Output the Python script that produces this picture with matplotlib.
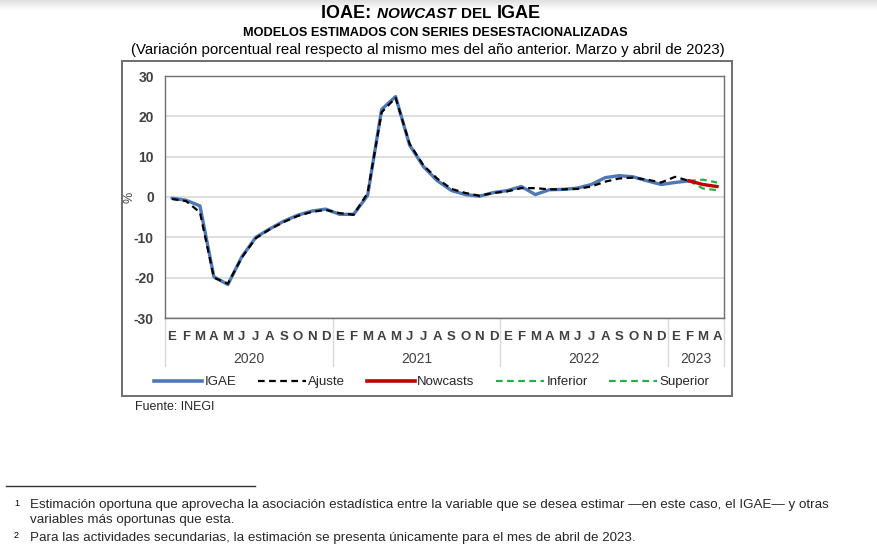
import numpy as np
import matplotlib.pyplot as plt
from matplotlib.patches import Rectangle
from matplotlib.lines import Line2D

plt.rcParams["font.family"] = ["Liberation Sans", "DejaVu Sans"]
plt.rcParams["axes.unicode_minus"] = False

# %% Daten: Jan 2020 bis Apr 2023 (40 Monate)

meses = list("EFMAMJJASOND") * 3 + list("EFMA")
anios = ["2020", "2021", "2022", "2023"]
meses_por_anio = [12, 12, 12, 4]

igae = [-0.3, -0.8, -2.2, -19.8, -21.7, -14.8, -10.0, -7.9, -6.0, -4.5,
        -3.5, -3.0, -4.3, -4.3, 0.4, 21.7, 24.9, 12.9, 7.5, 4.0,
        1.6, 0.6, 0.2, 1.1, 1.6, 2.6, 0.6, 1.8, 1.9, 2.2,
        3.1, 4.8, 5.3, 5.0, 4.0, 3.1, 3.6, 4.0]

ajuste = [-0.5, -1.0, -3.8, -20.0, -21.5, -15.0, -10.2, -8.0, -6.2, -4.7,
          -3.7, -3.2, -4.0, -4.4, 1.0, 21.0, 24.6, 13.2, 7.8, 4.5,
          2.0, 1.0, 0.3, 1.0, 1.4, 2.2, 2.2, 1.9, 1.9, 2.0,
          2.6, 3.8, 4.6, 4.8, 4.3, 3.6, 5.0, 4.0]

# Nowcast und Intervall: Feb, Mar, Abr 2023
nowcast = [4.0, 3.1, 2.6]
inferior = [4.0, 2.1, 1.7]
superior = [4.0, 4.3, 3.6]
inicio_nowcast = 37

y_ticks = [-30, -20, -10, 0, 10, 20, 30]

x = np.arange(len(meses))
x_now = x[inicio_nowcast:inicio_nowcast + len(nowcast)]

# %% Figur

fig = plt.figure(figsize=(8.78, 5.5), dpi=100)
W, H = 878, 550

def fx(px):
    return px / W

def fy(py):
    return 1 - py / H

# leichter grauer Schatten oben (Scan)
ax_bg = fig.add_axes([0, fy(10), 1, fy(0) - fy(10)])
ax_bg.imshow(np.linspace(0, 1, 20).reshape(-1, 1), cmap="gray", vmin=-3, vmax=1,
             aspect="auto", extent=(0, 1, 0, 1), alpha=0.5)
ax_bg.axis("off")

ax = fig.add_axes([fx(165), fy(318), fx(724) - fx(165), fy(76) - fy(318)])

gris_borde = "#6e6e6e"
azul = "#4f79b4"
rojo = "#c00000"
verde = "#22b04b"

ax.plot(x[:len(igae)], igae, color=azul, lw=2.4, solid_capstyle="round", zorder=3)
ax.plot(x[:len(ajuste)], ajuste, color="black", lw=1.6, ls=(0, (3, 2)), zorder=4)
ax.plot(x_now, inferior, color=verde, lw=1.6, ls=(0, (3, 2)), zorder=5)
ax.plot(x_now, superior, color=verde, lw=1.6, ls=(0, (3, 2)), zorder=5)
ax.plot(x_now, nowcast, color=rojo, lw=2.4, zorder=6)

ax.set_xlim(-0.5, len(meses) - 0.5)
ax.set_ylim(-30, 30)
ax.set_yticks(y_ticks)
ax.set_yticklabels([str(v) for v in y_ticks])
ax.yaxis.grid(True, color="#d9d9d9", lw=1.2)
ax.set_axisbelow(True)
for s in ax.spines.values():
    s.set_color(gris_borde)
    s.set_linewidth(1.0)

ax.tick_params(axis="y", length=0, pad=8, labelsize=10, labelcolor="#404040")
for t in ax.get_yticklabels():
    t.set_fontweight("bold")
ax.set_xticks(x)
ax.set_xticklabels(meses, fontsize=9.5, color="#404040", fontweight="bold")
ax.tick_params(axis="x", length=0, pad=9)
ax.set_ylabel("%", fontsize=9, color="#404040", labelpad=0)
ax.yaxis.set_label_coords(-0.052, 0.5)

# Jahreszeilen und Trennlinien unter der Achse
trans = ax.get_xaxis_transform()
pos = -0.5
for anio, n in zip(anios, meses_por_anio):
    ax.plot([pos, pos], [0, -0.2], transform=trans, color="#d9d9d9", lw=1.0, clip_on=False)
    ax.text(pos + n / 2, -0.17, anio, transform=trans, ha="center", va="center",
            fontsize=10, color="#404040")
    pos += n
ax.plot([pos, pos], [0, -0.2], transform=trans, color="#d9d9d9", lw=1.0, clip_on=False)

# Rahmen um die Grafik
fig.patches.append(Rectangle((fx(122), fy(396)), fx(732) - fx(122), fy(61) - fy(396),
                             transform=fig.transFigure, fill=False,
                             edgecolor=gris_borde, lw=1.4))

# Legende
handles = [
    Line2D([], [], color=azul, lw=2.6),
    Line2D([], [], color="black", lw=1.6, ls=(0, (3, 2))),
    Line2D([], [], color=rojo, lw=2.6),
    Line2D([], [], color=verde, lw=1.6, ls=(0, (3, 2))),
    Line2D([], [], color=verde, lw=1.6, ls=(0, (3, 2))),
]
etiquetas = ["IGAE", "Ajuste", "Nowcasts", "Inferior", "Superior"]
fig.legend(handles, etiquetas, loc="center", bbox_to_anchor=(fx(432), fy(382)),
           ncol=5, frameon=False, fontsize=9.5, handlelength=3.6,
           handletextpad=0.2, columnspacing=1.65, labelcolor="#262626")

# Titel: Teile nacheinander setzen
r = fig.canvas.get_renderer()
teile = [("IOAE: ", 13, "normal"), ("NOWCAST ", 11, "italic"),
         ("DEL ", 11, "normal"), ("IGAE", 13, "normal")]
x0 = 321
for txt, size, stil in teile:
    t = fig.text(fx(x0), fy(14), txt, fontsize=size, fontweight="bold", style=stil,
                 va="center", ha="left")
    x0 = t.get_window_extent(renderer=r).x1 + 1

fig.text(fx(435), fy(33), "MODELOS ESTIMADOS CON SERIES DESESTACIONALIZADAS",
         fontsize=9.15, fontweight="bold", ha="center", va="center")
fig.text(fx(428), fy(50),
         "(Variación porcentual real respecto al mismo mes del año anterior. Marzo y abril de 2023)",
         fontsize=10.8, ha="center", va="center")

fig.text(fx(135), fy(407), "Fuente: INEGI", fontsize=9, va="center", color="#262626")

# Fussnoten
fig.add_artist(Line2D([fx(6), fx(255)], [fy(486), fy(486)], color="#333333", lw=1.0))
fig.text(fx(14), fy(504), "1", fontsize=6.5, va="center")
fig.text(fx(30), fy(505),
         "Estimación oportuna que aprovecha la asociación estadística entre la variable que se desea estimar "
         "\u2014en este caso, el IGAE\u2014 y otras",
         fontsize=9.6, va="center", color="#262626")
fig.text(fx(30), fy(520), "variables más oportunas que esta.", fontsize=9.6, va="center",
         color="#262626")
fig.text(fx(14), fy(536), "2", fontsize=6.5, va="center")
fig.text(fx(30), fy(538),
         "Para las actividades secundarias, la estimación se presenta únicamente para el mes de abril de 2023.",
         fontsize=9.6, va="center", color="#262626")

fig.savefig("out.png", dpi=100)
